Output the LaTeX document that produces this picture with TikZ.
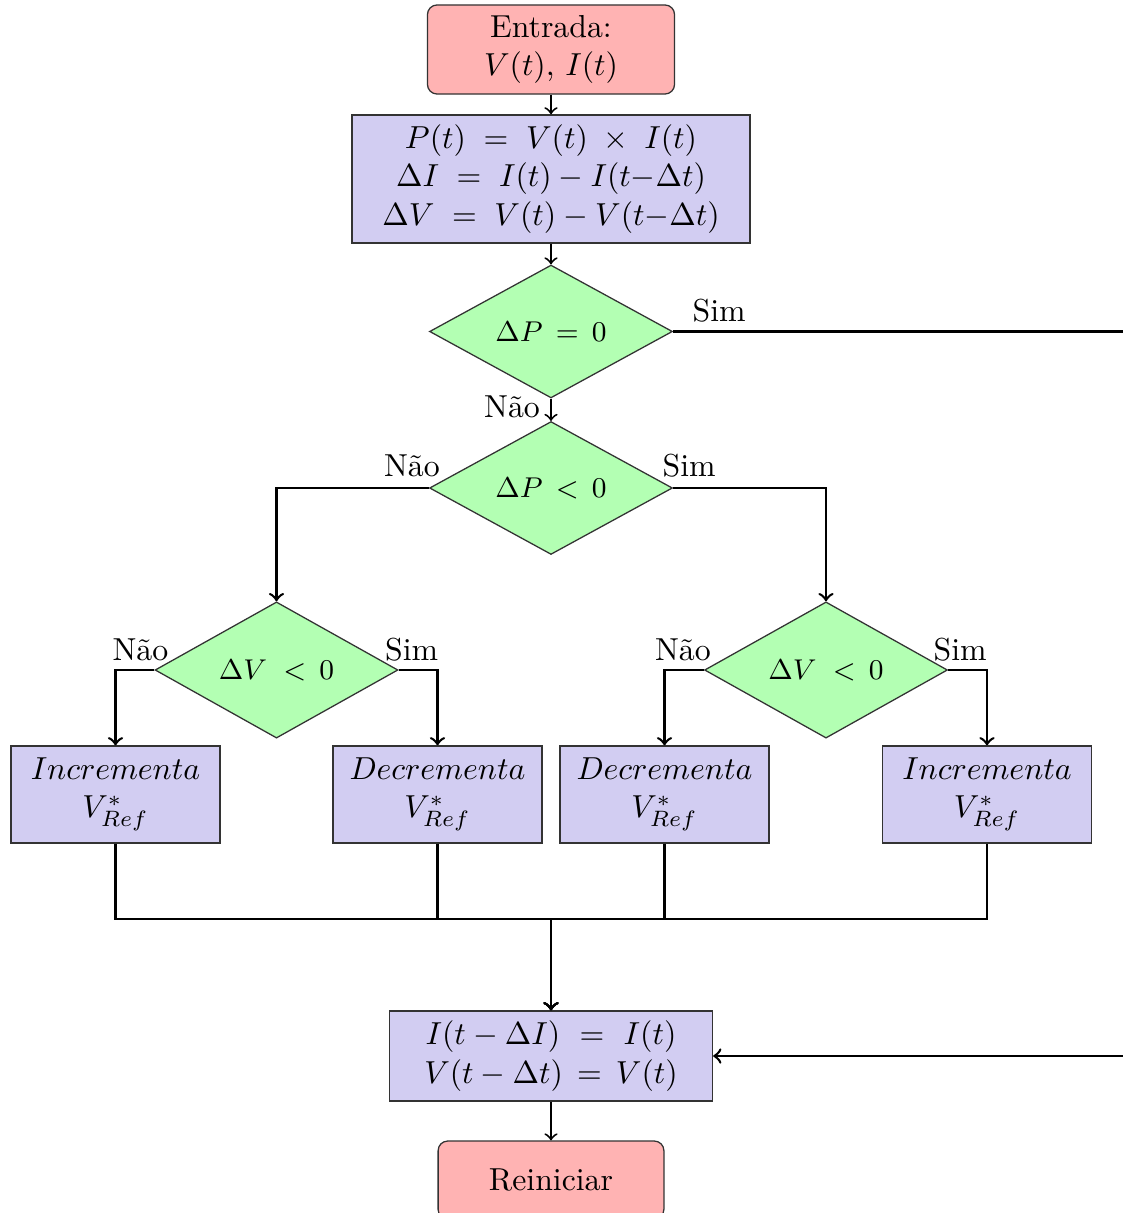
\documentclass[tikz,border=0pt]{standalone}
\usetikzlibrary{shapes.geometric}
\definecolor{procfill}{RGB}{210,205,242}
\definecolor{termfill}{RGB}{255,179,179}
\definecolor{decfill}{RGB}{179,255,179}
\tikzset{
  term/.style={draw=black!80, thin, fill=termfill, rounded corners=3pt, align=center,
    minimum width=77.7pt, minimum height=28pt, inner sep=2pt},
  proc/.style={draw=black!80, thin, fill=procfill, align=center, inner sep=2pt},
  smallbox/.style={proc, minimum width=65.7pt, minimum height=30.5pt},
  dec/.style={diamond, draw=black!80, thin, fill=decfill, minimum width=76.4pt,
    minimum height=41.8pt, inner sep=0pt, font=\small},
  lbl/.style={inner sep=0pt},
  conn/.style={thick, ->},
  vconn/.style={semithick, ->}
}
\begin{document}
\begin{tikzpicture}[x=0.3145pt, y=-0.3145pt]
  \useasboundingbox (0,0) rectangle (1123,1213);
  \clip (0,0) rectangle (1123,1213);

  % blocks
  \node[term] (in) at (551,49.5) {Entrada:\\$V(t)$, $I(t)$};
  \node[proc, minimum width=125.2pt, minimum height=40.3pt] (calc) at (551,179)
    {$P(t)\;=\;V(t)\;\times\;I(t)$\\
     $\Delta I\;=\;I(t) - I(t{-}\Delta t)$\\
     $\Delta V\;=\;V(t) - V(t{-}\Delta t)$};
  \node[dec] (d1) at (551,331.5) {$\Delta P\,=\,0$};
  \node[dec] (d2) at (551,488) {$\Delta P\,<\,0$};
  \node[dec] (d3) at (276.5,670) {$\Delta V\;<\,0$};
  \node[dec] (d4) at (826,670) {$\Delta V\;<\,0$};
  \node[smallbox] (inc1) at (115.5,794.5) {$Incrementa$\\$V^*_{Ref}$};
  \node[smallbox] (dec1) at (437.5,794.5) {$Decrementa$\\$V^*_{Ref}$};
  \node[smallbox] (dec2) at (664.5,794.5) {$Decrementa$\\$V^*_{Ref}$};
  \node[smallbox] (inc2) at (987,794.5) {$Incrementa$\\$V^*_{Ref}$};
  \node[proc, minimum width=101.6pt, minimum height=28.3pt] (upd) at (551,1056)
    {$I(t - \Delta I)\ =\ I(t)$\\$V(t - \Delta t)\,=\,V(t)$};
  \node[term, minimum width=71pt, minimum height=24.5pt] (end) at (551,1180) {Reiniciar};

  % connectors
  \draw[vconn] (in) -- (calc);
  \draw[vconn] (calc) -- (d1);
  \draw[vconn] (d1) -- (d2);
  \draw[conn] (d2.west) -| (d3.north);
  \draw[conn] (d2.east) -| (d4.north);
  \draw[conn] (d3.west) -| (inc1.north);
  \draw[conn] (d3.east) -| (dec1.north);
  \draw[conn] (d4.west) -| (dec2.north);
  \draw[conn] (d4.east) -| (inc2.north);
  \coordinate (m) at (551,919);
  \foreach \b in {inc1,dec1,dec2,inc2}
    \draw[conn] (\b.south) |- (m) -- (upd.north);
  \coordinate (loop) at (1170,700);
  \draw[conn] (d1.east) -| (loop) |- (upd.east);
  \draw[vconn] (upd) -- (end);

  % branch labels
  \node[lbl] at ([shift={(46,-21)}]d1.east) {Sim};
  \node[lbl] at ([shift={(-39,8)}]d1.south) {Não};
  \node[lbl] at ([shift={(-17,-22)}]d2.west) {Não};
  \node[lbl] at ([shift={(16,-22)}]d2.east) {Sim};
  \node[lbl] at ([shift={(-14,-20)}]d3.west) {Não};
  \node[lbl] at ([shift={(13,-20)}]d3.east) {Sim};
  \node[lbl] at ([shift={(-21,-20)}]d4.west) {Não};
  \node[lbl] at ([shift={(12,-20)}]d4.east) {Sim};
\end{tikzpicture}
\end{document}
